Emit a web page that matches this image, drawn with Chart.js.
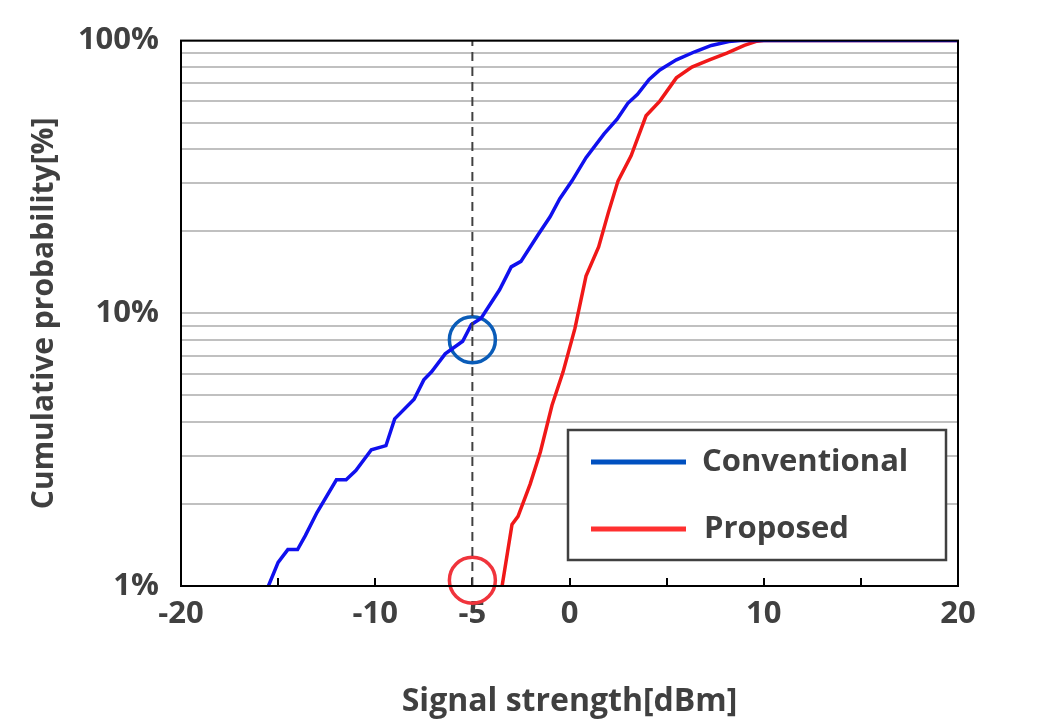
<!DOCTYPE html>
<html>
<head>
<meta charset="utf-8">
<script src="https://cdn.jsdelivr.net/npm/chart.js@4.4.0/dist/chart.umd.min.js"></script>
<style>
  html, body { margin: 0; padding: 0; background: #fff; }
  #wrap { width: 1063px; height: 725px; }
</style>
</head>
<body>
<div id="wrap"><canvas id="c"></canvas></div>
<script>
// --- データ ---
const conventionalX = [-15.5, -15.0, -14.5, -14.0, -13.6, -13.0, -12.0, -11.5, -11.0, -10.2, -9.45, -9.0, -8.0, -7.5, -7.1, -6.4, -5.5, -5.05, -4.55, -3.6, -3.0, -2.5, -1.6, -1.0, -0.5, 0.13, 0.85, 1.78, 2.45, 3.0, 3.5, 4.1, 4.65, 5.5, 6.45, 7.3, 8.2, 8.8, 20];
const conventionalY = [1.0, 1.22, 1.36, 1.36, 1.53, 1.86, 2.45, 2.45, 2.65, 3.16, 3.27, 4.1, 4.84, 5.7, 6.1, 7.1, 7.9, 9.1, 9.6, 12.2, 14.8, 15.5, 19.5, 22.6, 26.3, 30.6, 37.2, 45.5, 51.5, 58.9, 63.5, 72, 78, 85, 91, 96, 99.2, 100, 100];
const proposedX = [-3.47, -2.96, -2.65, -2.03, -1.5, -0.9, -0.33, 0.28, 0.85, 1.5, 2.0, 2.5, 3.17, 3.94, 4.65, 5.5, 6.3, 7.2, 8.1, 9.0, 9.65, 10.0, 20];
const proposedY = [1.0, 1.68, 1.8, 2.36, 3.1, 4.6, 6.1, 8.8, 13.7, 17.5, 23.4, 30.6, 37.8, 53, 60, 73, 80, 85, 90, 96, 99.5, 100, 100];
const xTickLabels = [-20, -10, -5, 0, 10, 20];
const yTickLabels = [1, 10, 100];
const markerX = -5;
const blueMarkY = 8;
const redMarkY = 1.05;

const TEXT = '#404040';
const FONT = '"Open Sans", "Noto Sans", sans-serif';

const toPoints = (xs, ys) => xs.map((x, i) => ({ x: x, y: ys[i] }));

// 枠と凡例
const framePlugin = {
    id: 'frame',
    afterDraw(chart) {
        const { ctx, chartArea: a } = chart;
        ctx.save();
        ctx.strokeStyle = '#000';
        ctx.lineWidth = 2;
        ctx.strokeRect(a.left, a.top, a.right - a.left, a.bottom - a.top);
        // 凡例
        ctx.fillStyle = '#fff';
        ctx.fillRect(568, 430, 378, 130);
        ctx.strokeStyle = '#404040';
        ctx.lineWidth = 2.5;
        ctx.strokeRect(568, 430, 378, 130);
        ctx.lineWidth = 5;
        ctx.strokeStyle = '#0050c0';
        ctx.beginPath(); ctx.moveTo(591, 462); ctx.lineTo(686, 462); ctx.stroke();
        ctx.strokeStyle = '#ff3030';
        ctx.beginPath(); ctx.moveTo(591, 529); ctx.lineTo(686, 529); ctx.stroke();
        ctx.fillStyle = TEXT;
        ctx.font = 'bold 31px ' + FONT;
        ctx.textBaseline = 'middle';
        ctx.fillText('Conventional', 702, 462);
        ctx.fillText('Proposed', 704, 529);
        ctx.restore();
    }
};

new Chart(document.getElementById('c'), {
    type: 'scatter',
    data: {
        datasets: [
            { label: 'marker', data: [{ x: markerX, y: 1 }, { x: markerX, y: 100 }], showLine: true, borderColor: '#404040', borderWidth: 2, borderDash: [9, 6], pointRadius: 0 },
            { label: 'Conventional', data: toPoints(conventionalX, conventionalY), showLine: true, borderColor: '#1010ee', borderWidth: 3.5, pointRadius: 0, tension: 0 },
            { label: 'Proposed', data: toPoints(proposedX, proposedY), showLine: true, borderColor: '#f01818', borderWidth: 3.5, pointRadius: 0, tension: 0 },
            { label: 'blueCircle', data: [{ x: markerX, y: blueMarkY }], pointRadius: 23, pointBorderWidth: 3.5, borderColor: '#0a5cb8', backgroundColor: 'rgba(0,0,0,0)', clip: false },
            { label: 'redCircle', data: [{ x: markerX, y: redMarkY }], pointRadius: 23, pointBorderWidth: 3.5, borderColor: '#f0343c', backgroundColor: 'rgba(0,0,0,0)', clip: false }
        ]
    },
    options: {
        responsive: true,
        maintainAspectRatio: false,
        animation: false,
        layout: { padding: { top: 37, right: 105, left: 0, bottom: 0 } },
        plugins: { legend: { display: false }, tooltip: { enabled: false } },
        scales: {
            x: {
                type: 'linear', min: -20, max: 20,
                afterBuildTicks: s => { s.ticks = [-20, -15, -10, -5, 0, 5, 10, 15, 20].map(v => ({ value: v })); },
                afterFit: s => { s.height = 139; },
                ticks: {
                    color: TEXT, font: { family: FONT, size: 31, weight: 'bold' }, padding: 18,
                    autoSkip: false, maxRotation: 0,
                    callback: v => xTickLabels.includes(v) ? String(v) : ''
                },
                grid: { drawOnChartArea: false, drawTicks: true, tickLength: -8, color: '#000', lineWidth: 2 },
                border: { display: false },
                title: { display: true, text: 'Signal strength[dBm]', color: TEXT, font: { family: FONT, size: 32, weight: 'bold' }, padding: { top: 10 } }
            },
            y: {
                type: 'logarithmic', min: 1, max: 100,
                afterBuildTicks: s => {
                    const t = [];
                    [1, 10].forEach(d => { for (let k = 1; k < 10; k++) t.push({ value: d * k }); });
                    t.push({ value: 100 });
                    s.ticks = t;
                },
                afterFit: s => { s.width = 181; },
                ticks: {
                    color: TEXT, font: { family: FONT, size: 31, weight: 'bold' }, padding: 22,
                    autoSkip: false,
                    callback: v => yTickLabels.includes(v) ? v + '%' : ''
                },
                grid: { color: '#c0c0c0', lineWidth: 2, drawTicks: false },
                border: { display: false },
                title: { display: true, text: 'Cumulative probability[%]', color: TEXT, font: { family: FONT, size: 30, weight: 'bold' }, padding: { bottom: 0, top: 26 } }
            }
        }
    },
    plugins: [framePlugin]
});
</script>
</body>
</html>
